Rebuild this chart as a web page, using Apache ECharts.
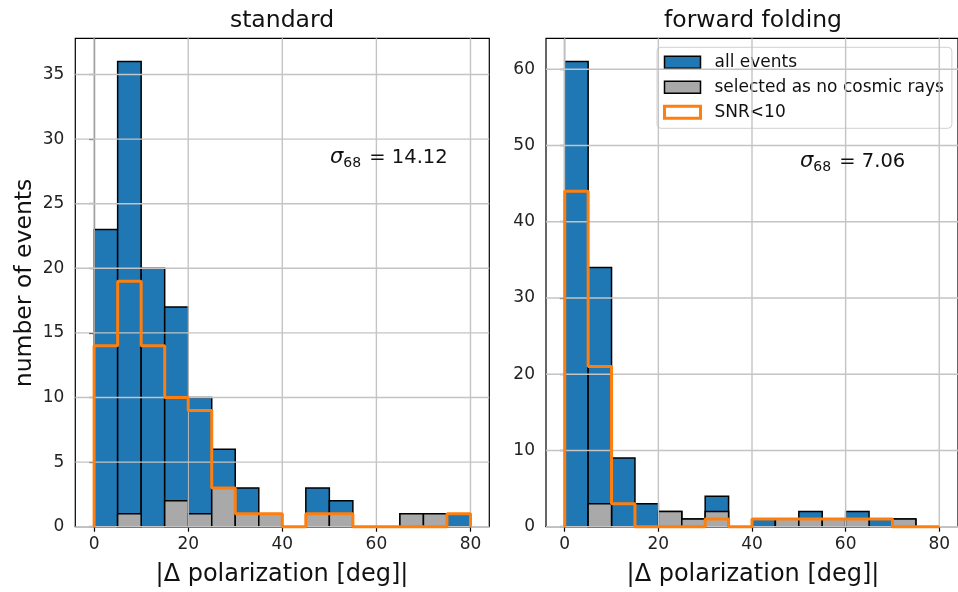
<!DOCTYPE html>
<html><head><meta charset="utf-8">
<script src="https://cdn.jsdelivr.net/npm/echarts@6/dist/echarts.min.js"></script>
<style>html,body{margin:0;padding:0;background:#fff}#c{width:958px;height:592px}</style>
</head><body><div id="c"></div>
<script>
// ---- data ----
const binEdges = [0,5,10,15,20,25,30,35,40,45,50,55,60,65,70,75,80];
const stdAll  = [23,36,20,17,10,6,3,1,0,3,2,0,0,1,1,1];
const stdNoCR = [0,1,0,2,1,3,1,1,0,1,1,0,0,1,1,0];
const stdSNR  = [14,19,14,10,9,3,1,1,0,1,1,0,0,0,0,1];
const ffAll   = [61,34,9,3,2,1,4,0,1,1,2,1,2,1,1,0];
const ffNoCR  = [0,3,0,0,2,1,2,0,0,1,1,1,1,0,1,0];
const ffSNR   = [44,21,3,0,0,0,1,0,1,1,1,1,1,1,0,0];
const xTicks = [0,20,40,60,80];
const stdYTicks = [0,5,10,15,20,25,30,35];
const ffYTicks = [0,10,20,30,40,50,60];
const panelTitles = ['standard','forward folding'];
const xName = '|Δ polarization [deg]|';
const yName = 'number of events';
const sigmaVals = ['14.12','7.06'];
const seriesNames = ['all events','selected as no cosmic rays','SNR<10'];

const FONT = 'DejaVu Sans';
const BLUE = '#1f77b4', GRAY = '#a9a9a9', ORANGE = '#ff7f0e';

function barSeries(name, counts, color, gi, z){
  const data = counts.map((c,i)=>[binEdges[i], binEdges[i+1], c]).filter(d=>d[2]>0);
  return {type:'custom', name, xAxisIndex:gi, yAxisIndex:gi, z, silent:true, animation:false,
    itemStyle:{color}, encode:{x:[0,1], y:2}, data,
    renderItem:(params, api)=>{
      const p0 = api.coord([api.value(0), api.value(2)]);
      const p1 = api.coord([api.value(1), 0]);
      return {type:'rect', shape:{x:p0[0], y:p0[1], width:p1[0]-p0[0], height:p1[1]-p0[1]},
        style:{fill:color, stroke:'#000', lineWidth:1.5}};
    }};
}
function stepSeries(name, counts, gi){
  const last = binEdges[binEdges.length-1];
  const pts = [[binEdges[0],0]];
  counts.forEach((c,i)=>pts.push([binEdges[i],c]));
  pts.push([last, counts[counts.length-1]]);
  pts.push([last, 0]);
  return {type:'line', name, xAxisIndex:gi, yAxisIndex:gi, step:'end', data:pts, symbol:'none',
    z:6, silent:true, animation:false, clip:false,
    itemStyle:{color:ORANGE}, lineStyle:{color:ORANGE, width:3}};
}
function gridLines(gi, xs, ys){
  const data = xs.map(v=>[v,0,0]).concat(ys.map(v=>[0,v,1]));
  return {type:'custom', xAxisIndex:gi, yAxisIndex:gi, z:4, silent:true, animation:false, data,
    encode:{x:0, y:1},
    renderItem:(params, api)=>{
      const cs = params.coordSys;
      const st = {stroke:'#c4c4c4', lineWidth:1.4};
      if(api.value(2)===0){
        const x = api.coord([api.value(0),0])[0];
        return {type:'line', shape:{x1:x,y1:cs.y,x2:x,y2:cs.y+cs.height}, style:st};
      }
      const y = api.coord([0, api.value(1)])[1];
      return {type:'line', shape:{x1:cs.x,y1:y,x2:cs.x+cs.width,y2:y}, style:st};
    }};
}
function xAxis(gi){
  return {type:'value', gridIndex:gi, min:-4, max:84,
    axisLine:{show:true, onZero:false, lineStyle:{color:'#000', width:1.2}},
    axisTick:{show:true, customValues:xTicks, length:5, lineStyle:{color:'#000', width:1.2}},
    axisLabel:{customValues:xTicks, fontSize:17, color:'#222', margin:9, fontFamily:FONT},
    splitLine:{show:false}};
}
function yAxis(gi, ticks, max){
  return {type:'value', gridIndex:gi, min:0, max,
    axisLine:{show:true, lineStyle:{color:'#000', width:1.2}},
    axisTick:{show:true, customValues:ticks, length:5, lineStyle:{color:'#000', width:1.2}},
    axisLabel:{customValues:ticks, fontSize:17, color:'#222', margin:11, fontFamily:FONT},
    splitLine:{show:false}};
}
function sigmaText(x, y, val){
  return {type:'text', x, y, z:10, style:{
    text:'{s|σ}{b|68}{n| = '+val+'}', verticalAlign:'middle',
    rich:{s:{fontFamily:FONT, fontStyle:'italic', fontSize:21, fill:'#111'},
          b:{fontFamily:FONT, fontSize:14, padding:[10,2,0,0], fill:'#111'},
          n:{fontFamily:FONT, fontSize:19.5, fill:'#111'}}}};
}
function plainText(x, y, text, size, rot){
  return {type:'text', x, y, rotation:rot||0, z:10, style:{text, fontFamily:FONT, fontSize:size,
    fill:'#111', align:'center', verticalAlign:'middle'}};
}

const chart = echarts.init(document.getElementById('c'), null, {renderer:'canvas'});
chart.setOption({
  animation:false,
  backgroundColor:'#fff',
  textStyle:{fontFamily:FONT},
  grid:[
    {left:75.3, top:38.3, width:414, height:488.4, show:true, borderColor:'#000', borderWidth:1.2, containLabel:false},
    {left:546, top:38.3, width:414, height:488.4, show:true, borderColor:'#000', borderWidth:1.2, containLabel:false}
  ],
  xAxis:[xAxis(0), xAxis(1)],
  yAxis:[yAxis(0, stdYTicks, 37.8), yAxis(1, ffYTicks, 64.05)],
  legend:{
    left:657, top:47.3, orient:'vertical', itemWidth:36, itemHeight:12, itemGap:5,
    padding:[5,8,6,6], backgroundColor:'rgba(255,255,255,0.8)', borderColor:'#d0d0d0',
    borderWidth:1, borderRadius:4, selectedMode:false,
    textStyle:{fontFamily:FONT, fontSize:17, color:'#111', lineHeight:20, padding:[0,0,0,9]},
    data:[
      {name:seriesNames[0], icon:'rect', itemStyle:{color:BLUE, borderColor:'#000', borderWidth:1.5}},
      {name:seriesNames[1], icon:'rect', itemStyle:{color:GRAY, borderColor:'#000', borderWidth:1.5}},
      {name:seriesNames[2], icon:'rect', itemStyle:{color:'#fff', borderColor:ORANGE, borderWidth:3}}
    ]
  },
  graphic:[
    plainText(282, 21, panelTitles[0], 23.5),
    plainText(753, 21, panelTitles[1], 23.5),
    plainText(282, 575, xName, 24),
    plainText(753, 575, xName, 24),
    plainText(25, 283, yName, 23.5, Math.PI/2),
    sigmaText(330, 158, sigmaVals[0]),
    sigmaText(800, 162, sigmaVals[1])
  ],
  series:[
    barSeries(seriesNames[0], stdAll, BLUE, 0, 2),
    barSeries(seriesNames[1], stdNoCR, GRAY, 0, 3),
    gridLines(0, xTicks, stdYTicks),
    stepSeries(seriesNames[2], stdSNR, 0),
    barSeries(seriesNames[0], ffAll, BLUE, 1, 2),
    barSeries(seriesNames[1], ffNoCR, GRAY, 1, 3),
    gridLines(1, xTicks, ffYTicks),
    stepSeries(seriesNames[2], ffSNR, 1)
  ]
});
</script>
</body></html>
